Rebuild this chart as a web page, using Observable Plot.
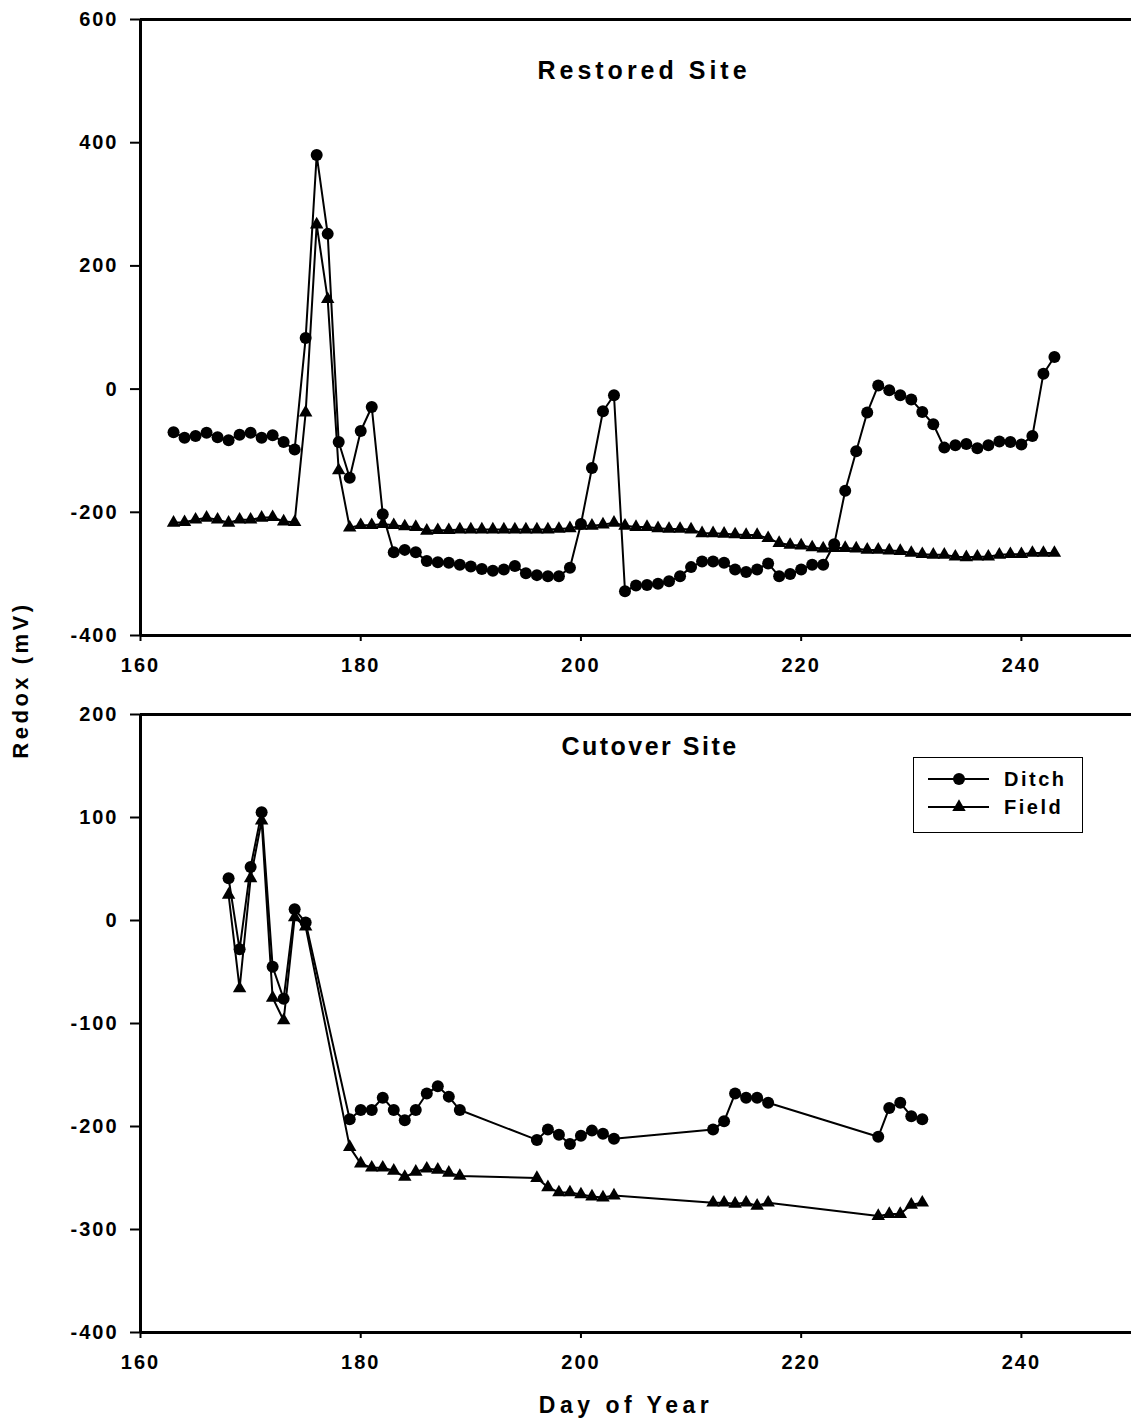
<!DOCTYPE html>
<html>
<head>
<meta charset="utf-8">
<script src="https://cdn.jsdelivr.net/npm/d3@7"></script>
<script src="https://cdn.jsdelivr.net/npm/@observablehq/plot@0.6"></script>
<style>
  body { margin: 0; background: #fff; font-family: "Liberation Sans", Arial, sans-serif; }
  #wrap { position: relative; width: 1131px; height: 1424px; background: #fff; }
  #top, #bottom { position: absolute; left: 0; }
  #top { top: 0; }
  #bottom { top: 685px; }
  #ylabel { position: absolute; left: 21px; top: 680px; transform: translate(-50%, -50%) rotate(-90deg);
    white-space: nowrap; font-weight: bold; font-size: 22px; letter-spacing: 3.5px; }
  #legend { position: absolute; left: 913px; top: 757px; width: 168px; height: 74px;
    border: 1.5px solid #000; background: #fff; }
</style>
</head>
<body>
<div id="wrap">
  <div id="top"></div>
  <div id="bottom"></div>
  <div id="ylabel">Redox (mV)</div>
  <div id="legend"></div>
</div>
<script>
// ---------------- DATA ----------------
const xTicks = [160, 180, 200, 220, 240];
const yTicksRestored = [-400, -200, 0, 200, 400, 600];
const yTicksCutover = [-400, -300, -200, -100, 0, 100, 200];
const seriesNames = ["Ditch", "Field"];

const restoredDays = [163,164,165,166,167,168,169,170,171,172,173,174,175,176,177,178,179,180,181,182,
  183,184,185,186,187,188,189,190,191,192,193,194,195,196,197,198,199,200,201,202,203,204,205,206,207,208,
  209,210,211,212,213,214,215,216,217,218,219,220,221,222,223,224,225,226,227,228,229,230,231,232,233,234,
  235,236,237,238,239,240,241,242,243];
const restoredDitch = [-70,-79,-76,-71,-78,-83,-74,-71,-79,-75,-86,-98,83,380,252,-86,-144,-68,-29,-203,
  -265,-261,-265,-279,-281,-282,-285,-288,-292,-295,-293,-287,-299,-302,-304,-304,-290,-219,-128,-36,-10,-328,-319,-318,-316,-312,
  -304,-289,-280,-280,-282,-293,-297,-293,-283,-304,-300,-293,-285,-285,-252,-165,-101,-38,6,-2,-10,-17,-37,-57,-95,-91,
  -89,-96,-91,-85,-86,-90,-76,25,52];
const restoredField = [-217,-216,-212,-209,-212,-217,-212,-212,-209,-208,-215,-216,-38,267,146,-132,-225,-221,-221,-219,
  -221,-223,-224,-230,-229,-229,-228,-228,-228,-228,-228,-228,-228,-228,-228,-227,-226,-222,-222,-220,-217,-222,-224,-224,-226,-227,
  -227,-228,-234,-234,-235,-236,-237,-237,-242,-250,-253,-254,-257,-259,-258,-258,-259,-261,-261,-262,-263,-266,-268,-269,-269,-272,
  -273,-272,-272,-269,-268,-268,-266,-266,-266];

const cutoverDays = [168,169,170,171,172,173,174,175,179,180,181,182,183,184,185,186,187,188,189,
  196,197,198,199,200,201,202,203,212,213,214,215,216,217,227,228,229,230,231];
const cutoverDitch = [41,-28,52,105,-45,-76,11,-2,-193,-184,-184,-172,-184,-194,-184,-168,-161,-171,-184,
  -213,-203,-208,-217,-209,-204,-207,-212,-203,-195,-168,-172,-172,-177,-210,-182,-177,-190,-193];
const cutoverField = [25,-66,41,97,-75,-97,3,-6,-220,-236,-240,-240,-243,-249,-244,-241,-242,-245,-248,
  -250,-259,-264,-264,-266,-268,-269,-267,-274,-274,-275,-274,-277,-274,-287,-285,-285,-276,-274];

// ---------------- BUILD ----------------
function toRows(days, values) { return days.map((d, i) => ({ day: d, v: values[i] })); }

function panel({ days, ditch, field, yDomain, yTicks, title, titleDy, titleDx, height, marginTop, marginBottom, xLabel }) {
  const dRows = toRows(days, ditch);
  const fRows = toRows(days, field);
  const marks = [
    Plot.ruleY([yDomain[1]], { stroke: "#000", strokeWidth: 3 }),
    Plot.ruleY([yDomain[0]], { stroke: "#000", strokeWidth: 3 }),
    Plot.ruleX([160], { stroke: "#000", strokeWidth: 3 }),
    Plot.axisY({ ticks: yTicks, tickSize: 10, tickPadding: 12, tickFormat: d => String(d), label: null, strokeWidth: 2 }),
    Plot.axisX({ ticks: xTicks, tickSize: 6, tickPadding: 16, tickFormat: d => String(d), label: null, strokeWidth: 2 }),
    Plot.line(fRows, { x: "day", y: "v", stroke: "#000", strokeWidth: 2 }),
    Plot.line(dRows, { x: "day", y: "v", stroke: "#000", strokeWidth: 2 }),
    Plot.dot(fRows, { x: "day", y: "v", symbol: "triangle", r: 5, fill: "#000", stroke: "none" }),
    Plot.dot(dRows, { x: "day", y: "v", symbol: "circle", r: 6, fill: "#000", stroke: "none" }),
    Plot.text([title], { frameAnchor: "top", lineAnchor: "middle", dy: titleDy, dx: titleDx, fontSize: 25, fontWeight: "bold", fill: "#000" })
  ];
  if (xLabel) marks.push(Plot.text([xLabel], { frameAnchor: "bottom", lineAnchor: "middle", dy: 73, dx: -10, fontSize: 23, fontWeight: "bold", fill: "#000" }));
  return Plot.plot({
    width: 1131,
    height,
    marginTop,
    marginBottom,
    marginLeft: 140,
    marginRight: 0,
    x: { domain: [160, 250] },
    y: { domain: yDomain },
    style: { fontFamily: "'Liberation Sans', Arial, sans-serif", fontSize: "20px", fontWeight: "bold",
      letterSpacing: "2px", color: "#000", background: "transparent", overflow: "visible" },
    marks
  });
}

const topChart = panel({
  days: restoredDays, ditch: restoredDitch, field: restoredField,
  yDomain: [-400, 600], yTicks: yTicksRestored, title: "Restored Site", titleDy: 51, titleDx: 8,
  height: 685, marginTop: 19, marginBottom: 50
});
document.getElementById("top").append(topChart);

const bottomChart = panel({
  days: cutoverDays, ditch: cutoverDitch, field: cutoverField,
  yDomain: [-400, 200], yTicks: yTicksCutover, title: "Cutover Site", titleDy: 32, titleDx: 14,
  height: 739, marginTop: 29, marginBottom: 92, xLabel: "Day of Year"
});
document.getElementById("bottom").append(bottomChart);

// title letter spacing
for (const svg of [topChart, bottomChart]) {
  svg.querySelectorAll("text").forEach(t => {
    if (t.textContent === "Restored Site") t.setAttribute("letter-spacing", "4px");
    if (t.textContent === "Cutover Site") t.setAttribute("letter-spacing", "2.5px");
    if (t.textContent === "Day of Year") t.setAttribute("letter-spacing", "4.5px");
  });
}

// ---------------- LEGEND ----------------
const ns = "http://www.w3.org/2000/svg";
const lg = document.createElementNS(ns, "svg");
lg.setAttribute("width", 168); lg.setAttribute("height", 74);
lg.style.fontFamily = "'Liberation Sans', Arial, sans-serif";
const rowsY = [21, 49];
seriesNames.forEach((name, i) => {
  const y = rowsY[i];
  const ln = document.createElementNS(ns, "line");
  ln.setAttribute("x1", 14); ln.setAttribute("x2", 75); ln.setAttribute("y1", y); ln.setAttribute("y2", y);
  ln.setAttribute("stroke", "#000"); ln.setAttribute("stroke-width", 2);
  lg.append(ln);
  const sym = document.createElementNS(ns, "path");
  const gen = d3.symbol(i === 0 ? d3.symbolCircle : d3.symbolTriangle, i === 0 ? Math.PI * 36 : Math.PI * 25);
  sym.setAttribute("d", gen());
  sym.setAttribute("transform", `translate(45,${y})`);
  sym.setAttribute("fill", "#000");
  lg.append(sym);
  const t = document.createElementNS(ns, "text");
  t.setAttribute("x", 90); t.setAttribute("y", y);
  t.setAttribute("dominant-baseline", "central");
  t.setAttribute("font-size", 20); t.setAttribute("font-weight", "bold");
  t.setAttribute("letter-spacing", "2.5px");
  t.textContent = name;
  lg.append(t);
});
document.getElementById("legend").append(lg);
</script>
</body>
</html>
